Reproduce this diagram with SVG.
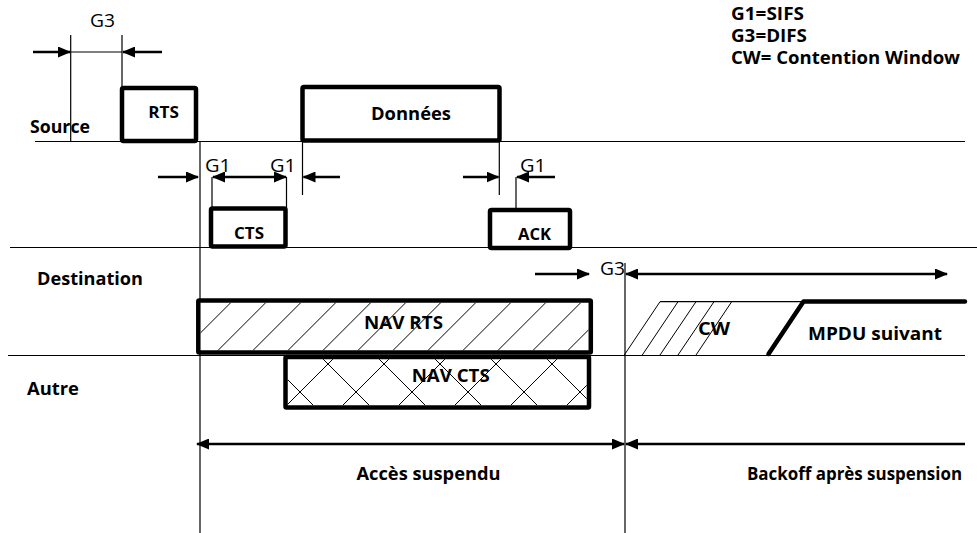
<svg xmlns="http://www.w3.org/2000/svg" width="977" height="533" viewBox="0 0 977 533">
<style>
text{font-family:"Open Sans","Noto Sans","Liberation Sans",sans-serif;fill:#000}
.b{font-weight:bold}
.r{font-weight:normal}
.thin{stroke:#000;stroke-width:1.2;fill:none}
.box{stroke:#000;stroke-width:4.5;fill:#fff;stroke-linejoin:round}
.arr{stroke:#000;stroke-width:2.6;fill:none}
.hat{stroke:#000;stroke-width:1;fill:none}
</style>
<defs>
<marker id="ah" markerUnits="userSpaceOnUse" markerWidth="13" markerHeight="11" refX="12" refY="5.5" orient="auto-start-reverse" viewBox="0 0 13 11">
<path d="M0,0 L13,5.5 L0,11 z" fill="#000"/>
</marker>
<pattern id="diag" patternUnits="userSpaceOnUse" x="8.4" y="0" width="35" height="35">
<path d="M0,35 L35,0 M-2,2 L2,-2 M33,37 L37,33" stroke="#000" stroke-width="1"/>
</pattern>
<pattern id="cross" patternUnits="userSpaceOnUse" x="20" y="0" width="56" height="56">
<path d="M0,56 L56,0 M-2,2 L2,-2 M54,58 L58,54 M0,0 L56,56 M-2,54 L2,58 M54,-2 L58,2" stroke="#000" stroke-width="1"/>
</pattern>
</defs>

<g id="timelines">
<line class="thin" x1="35" y1="141.5" x2="965" y2="141.5"/>
<line class="thin" x1="10" y1="247.5" x2="977" y2="247.5"/>
<line class="thin" x1="8" y1="355.5" x2="965" y2="355.5"/>
</g>

<g id="connectors">
<line class="thin" x1="70.7" y1="35" x2="70.7" y2="141.5"/>
<line class="thin" x1="122" y1="35" x2="122" y2="88"/>
<line class="thin" x1="200" y1="141.5" x2="200" y2="533"/>
<line class="thin" x1="302.5" y1="141.5" x2="302.5" y2="195"/>
<line class="thin" x1="499.3" y1="141.5" x2="499.3" y2="195"/>
<line class="thin" x1="212" y1="177" x2="212" y2="208"/>
<line class="thin" x1="286.5" y1="177" x2="286.5" y2="208"/>
<line class="thin" x1="516" y1="177" x2="516" y2="210"/>
<line class="thin" x1="625" y1="263" x2="625" y2="533"/>
<line class="thin" x1="70.7" y1="52" x2="122" y2="52"/>
<line class="arr" x1="33" y1="52" x2="70" y2="52" marker-end="url(#ah)"/>
<line class="arr" x1="162" y1="52" x2="123" y2="52" marker-end="url(#ah)"/>
<line class="arr" x1="158" y1="177" x2="198" y2="177" marker-end="url(#ah)"/>
<line class="arr" x1="213" y1="177" x2="286" y2="177" marker-start="url(#ah)" marker-end="url(#ah)"/>
<line class="arr" x1="340" y1="177" x2="303.5" y2="177" marker-end="url(#ah)"/>
<line class="arr" x1="463" y1="177" x2="498.5" y2="177" marker-end="url(#ah)"/>
<line class="arr" x1="555" y1="177" x2="517" y2="177" marker-end="url(#ah)"/>
<line class="arr" x1="535" y1="274" x2="589" y2="274" marker-end="url(#ah)"/>
<line class="arr" x1="626" y1="274" x2="947" y2="274" marker-start="url(#ah)" marker-end="url(#ah)"/>
<line class="arr" x1="197" y1="444" x2="624" y2="444" marker-start="url(#ah)" marker-end="url(#ah)"/>
<line class="arr" x1="965" y1="444" x2="626" y2="444" marker-end="url(#ah)"/>
</g>

<g id="legend">
<text class="b" x="731" y="20" font-size="17.5" textLength="73" lengthAdjust="spacingAndGlyphs">G1=SIFS</text>
<text class="b" x="731" y="42" font-size="17.5" textLength="76" lengthAdjust="spacingAndGlyphs">G3=DIFS</text>
<text class="b" x="731" y="64" font-size="17.5" textLength="229" lengthAdjust="spacingAndGlyphs">CW= Contention Window</text>
</g>

<g id="labels">
<text class="r" x="90" y="27" font-size="18" textLength="25" lengthAdjust="spacingAndGlyphs">G3</text>
<text class="b" x="30" y="133" font-size="17.5" textLength="60" lengthAdjust="spacingAndGlyphs">Source</text>
<text class="b" x="37" y="285" font-size="17.5" textLength="106" lengthAdjust="spacingAndGlyphs">Destination</text>
<text class="b" x="27" y="395" font-size="17.5" textLength="52" lengthAdjust="spacingAndGlyphs">Autre</text>
<text class="r" x="205" y="171.5" font-size="18" textLength="26" lengthAdjust="spacingAndGlyphs">G1</text>
<text class="r" x="270" y="171.5" font-size="18" textLength="26" lengthAdjust="spacingAndGlyphs">G1</text>
<text class="r" x="520" y="171.5" font-size="18" textLength="26" lengthAdjust="spacingAndGlyphs">G1</text>
<text class="r" x="600" y="275" font-size="18" textLength="25" lengthAdjust="spacingAndGlyphs">G3</text>
<text class="b" x="356.5" y="480" font-size="17.5" textLength="144" lengthAdjust="spacingAndGlyphs">Accès suspendu</text>
<text class="b" x="747" y="480" font-size="17.5" textLength="215" lengthAdjust="spacingAndGlyphs">Backoff après suspension</text>
</g>

<g id="node-rts">
<rect class="box" x="122" y="88" width="74" height="53" rx="1.5"/>
<text class="b" x="148.3" y="118" font-size="16" textLength="30.7" lengthAdjust="spacingAndGlyphs">RTS</text>
</g>

<g id="node-donnees">
<rect class="box" x="302.5" y="87" width="197" height="53.5" rx="1.5"/>
<text class="b" x="371" y="120" font-size="18.5" textLength="80" lengthAdjust="spacingAndGlyphs">Données</text>
</g>

<g id="node-cts">
<rect class="box" x="211" y="208.5" width="74.5" height="38" rx="1.5"/>
<text class="b" x="234" y="239" font-size="16" textLength="30" lengthAdjust="spacingAndGlyphs">CTS</text>
</g>

<g id="node-ack">
<rect class="box" x="490" y="210" width="80" height="38" rx="1.5"/>
<text class="b" x="518" y="240" font-size="16" textLength="33" lengthAdjust="spacingAndGlyphs">ACK</text>
</g>

<g id="node-nav-rts">
<rect class="box" x="198.3" y="300.5" width="392.5" height="52" rx="1"/>
<rect x="200.5" y="302.7" width="388" height="47.6" fill="url(#diag)"/>
<text class="b" x="364" y="329" font-size="18.5" textLength="79" lengthAdjust="spacingAndGlyphs">NAV RTS</text>
</g>

<g id="node-nav-cts">
<rect class="box" x="285.5" y="357" width="303.5" height="50.5" rx="1"/>
<rect x="287.7" y="359.2" width="299" height="46" fill="url(#cross)"/>
<text class="b" x="411.7" y="381.7" font-size="18.5" textLength="78" lengthAdjust="spacingAndGlyphs">NAV CTS</text>
</g>

<g id="node-cw">
<line class="thin" x1="660" y1="301.7" x2="803" y2="301.7"/>
<path class="hat" d="M624.3,355 L660,301.7 M642.3,355 L678,301.7 M660,355 L696,301.7 M678,355 L714,301.7 M696,355 L731.7,301.7"/>
<text class="b" x="698" y="335" font-size="18.5" textLength="32" lengthAdjust="spacingAndGlyphs">CW</text>
</g>

<g id="node-mpdu">
<path d="M768.5,354 L803.5,301.5 L965,301.5" stroke="#000" stroke-width="4.5" fill="none" stroke-linecap="round" stroke-linejoin="round"/>
<text class="b" x="808" y="340" font-size="18.5" textLength="134" lengthAdjust="spacingAndGlyphs">MPDU suivant</text>
</g>
</svg>
